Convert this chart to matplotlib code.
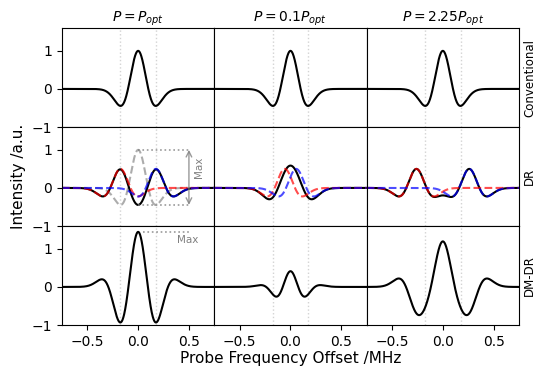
import numpy as np
import matplotlib.pyplot as plt

# Line-shape parameters (frequencies in MHz)
linewidth_sigma = 0.1                      # width of the second-derivative Gaussian line
dr_amplitude = 0.5                         # amplitude of each DR component
dr_splitting = [0.175, 0.056, 0.26]        # half-separation of the DR components per power
column_titles = [r'$P=P_{opt}$', r'$P=0.1P_{opt}$', r'$P=2.25P_{opt}$']
row_labels = ['Conventional', 'DR', 'DM-DR']
marker_positions = [-0.175, 0.175]
x_ticks = [-0.5, 0.0, 0.5]
y_ticks = [-1, 0, 1]
x_limits = (-0.75, 0.75)
y_limits = (-1.0, 1.6)


def line_shape(x, center=0.0, amp=1.0, sigma=linewidth_sigma):
    u = (x - center) / sigma
    return amp * (1 - u ** 2) * np.exp(-u ** 2 / 2)


x = np.linspace(x_limits[0], x_limits[1], 1500)

fig, axes = plt.subplots(3, 3, sharex=True, sharey=True, figsize=(5.38, 3.67), dpi=100)
fig.subplots_adjust(left=0.1152, right=0.9647, top=0.9237, bottom=0.1144,
                    hspace=0, wspace=0)

for j, d in enumerate(dr_splitting):
    conventional = line_shape(x)
    red = line_shape(x, -d, dr_amplitude)
    blue = line_shape(x, d, dr_amplitude)
    dr = red + blue
    dmdr = conventional - dr

    ax_c, ax_d, ax_m = axes[:, j]
    for ax in axes[:, j]:
        for xm in marker_positions:
            ax.axvline(xm, color='lightgrey', ls=':', lw=1, zorder=0)

    ax_c.plot(x, conventional, color='black', lw=1.5)

    if j == 0:
        ax_d.plot(x, conventional, color='grey', ls='--', lw=1.5, alpha=0.65)
    ax_d.plot(x, dr, color='black', lw=1.5)
    ax_d.plot(x, red, color='red', ls='--', lw=1.5, alpha=0.7)
    ax_d.plot(x, blue, color='blue', ls='--', lw=1.5, alpha=0.7)

    ax_m.plot(x, dmdr, color='black', lw=1.5)

    ax_c.set_title(column_titles[j], fontsize=10, pad=3)

    if j == 0:
        top = conventional.max()
        bottom = dr.min()
        ax_d.plot([0, 0.5], [top, top], color='grey', ls=':', lw=1.2, alpha=0.8)
        ax_d.plot([0, 0.5], [bottom, bottom], color='grey', ls=':', lw=1.2, alpha=0.8)
        ax_d.annotate('', xy=(0.5, bottom), xytext=(0.5, top),
                      arrowprops=dict(arrowstyle='<->', color='grey', lw=1, alpha=0.8,
                                      shrinkA=0, shrinkB=0))
        ax_d.text(0.6, 0.53, 'Max', rotation=90, fontsize=7.5, color='grey',
                  ha='center', va='center')
        peak = dmdr.max()
        ax_m.plot([0.05, 0.5], [peak, peak], color='grey', ls=':', lw=1.2, alpha=0.8)
        ax_m.text(0.49, 1.23, 'Max', fontsize=7.5, color='grey',
                  ha='center', va='center')

for ax in axes.flat:
    ax.set_xlim(*x_limits)
    ax.set_ylim(*y_limits)
    ax.set_xticks(x_ticks)
    ax.set_yticks(y_ticks)
    ax.tick_params(labelsize=10)

for i in range(3):
    for j in range(3):
        ax = axes[i, j]
        if j > 0:
            ax.tick_params(left=False)
        if i < 2:
            ax.tick_params(bottom=False)

for i, label in enumerate(row_labels):
    ax = axes[i, 2]
    ax.text(1.028, 0.5, label, transform=ax.transAxes, rotation=90,
            fontsize=8.5, ha='left', va='center')

fig.text(0.035, 0.519, 'Intensity /a.u.', rotation=90, fontsize=11,
         ha='center', va='center')
fig.text(0.54, 0.024, 'Probe Frequency Offset /MHz', fontsize=11,
         ha='center', va='center')

fig.savefig('out.png', dpi=100)
